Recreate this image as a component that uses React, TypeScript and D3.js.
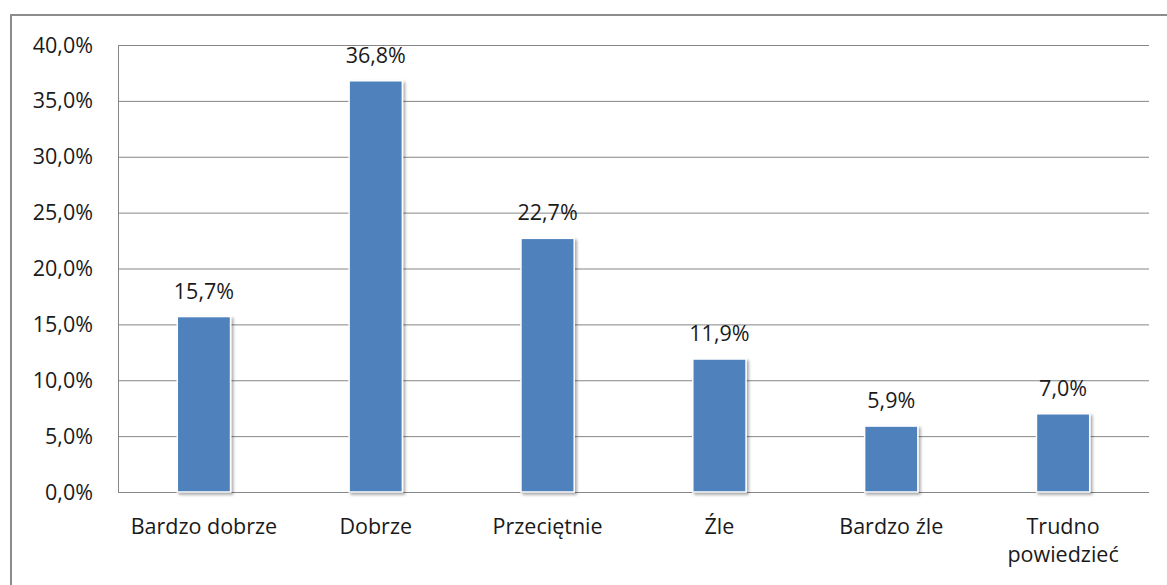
import React, { useEffect, useRef } from "react";
import * as d3 from "d3";

// Chart data
const categories = ["Bardzo dobrze", "Dobrze", "Przeciętnie", "Źle", "Bardzo źle", "Trudno powiedzieć"];
const values = [15.7, 36.8, 22.7, 11.9, 5.9, 7.0];
const yTicks = [0, 5, 10, 15, 20, 25, 30, 35, 40];

const WIDTH = 1167;
const HEIGHT = 585;

export default function App() {
  const chartRef = useRef<SVGSVGElement>(null);

  useEffect(() => {
    const svg = d3.select(chartRef.current);
    svg.selectAll("*").remove();

    const left = 118;
    const right = 1149;
    const top = 45;
    const bottom = 492;
    const font = "'Open Sans', sans-serif";
    const fontSize = 21.5;

    // drop shadow for bars
    const defs = svg.append("defs");
    const filter = defs
      .append("filter")
      .attr("id", "shadow")
      .attr("x", "-20%")
      .attr("y", "-10%")
      .attr("width", "150%")
      .attr("height", "130%");
    filter
      .append("feDropShadow")
      .attr("dx", 2)
      .attr("dy", 2)
      .attr("stdDeviation", 1.5)
      .attr("flood-color", "#000")
      .attr("flood-opacity", 0.35);

    // outer chart border
    svg
      .append("rect")
      .attr("x", 11)
      .attr("y", 15)
      .attr("width", 1170)
      .attr("height", 600)
      .attr("fill", "white")
      .attr("stroke", "#8c8c8c")
      .attr("stroke-width", 2);

    const x = d3.scaleBand().domain(categories).range([left, right]).paddingInner(0.69).paddingOuter(0.345);
    const y = d3.scaleLinear().domain([0, 40]).range([bottom, top]);

    // gridlines
    svg
      .append("g")
      .selectAll("line")
      .data(yTicks)
      .join("line")
      .attr("x1", left)
      .attr("x2", right)
      .attr("y1", (d) => y(d) + 0.5)
      .attr("y2", (d) => y(d) + 0.5)
      .attr("stroke", "#868686")
      .attr("stroke-width", 1);

    // y axis line
    svg
      .append("line")
      .attr("x1", left + 0.5)
      .attr("x2", left + 0.5)
      .attr("y1", top)
      .attr("y2", bottom + 1)
      .attr("stroke", "#868686");

    // y tick labels
    svg
      .append("g")
      .selectAll("text")
      .data(yTicks)
      .join("text")
      .attr("x", 93)
      .attr("y", (d) => y(d))
      .attr("dy", "0.35em")
      .attr("text-anchor", "end")
      .attr("font-family", font)
      .attr("font-size", fontSize)
      .attr("fill", "#1a1a1a")
      .text((d) => d.toFixed(1).replace(".", ",") + "%");

    // bars
    svg
      .append("g")
      .selectAll("rect")
      .data(values)
      .join("rect")
      .attr("x", (d, i) => x(categories[i])!)
      .attr("y", (d) => y(d))
      .attr("width", x.bandwidth())
      .attr("height", (d) => bottom - y(d))
      .attr("fill", "#4f81bd")
      .attr("stroke", "white")
      .attr("stroke-width", 1.5)
      .attr("filter", "url(#shadow)");

    // value labels
    svg
      .append("g")
      .selectAll("text")
      .data(values)
      .join("text")
      .attr("x", (d, i) => x(categories[i])! + x.bandwidth() / 2)
      .attr("y", (d) => y(d) - 18)
      .attr("text-anchor", "middle")
      .attr("font-family", font)
      .attr("font-size", fontSize)
      .attr("fill", "#1a1a1a")
      .text((d) => d.toFixed(1).replace(".", ",") + "%");

    // category labels (wrap two-word label onto two lines)
    const catLabels = svg
      .append("g")
      .selectAll("text")
      .data(categories)
      .join("text")
      .attr("x", (d) => x(d)! + x.bandwidth() / 2)
      .attr("y", 534)
      .attr("text-anchor", "middle")
      .attr("font-family", font)
      .attr("font-size", fontSize)
      .attr("fill", "#1a1a1a");
    catLabels.each(function (d) {
      const t = d3.select(this);
      const cx = x(d)! + x.bandwidth() / 2;
      if (d === "Trudno powiedzieć") {
        d.split(" ").forEach((w, i) => {
          t.append("tspan").attr("x", cx).attr("dy", i === 0 ? 0 : 28).text(w);
        });
      } else {
        t.text(d);
      }
    });
  }, []);

  return (
    <div style={{ position: "absolute", left: 0, top: 0 }}>
      <svg ref={chartRef} width={WIDTH} height={HEIGHT}></svg>
    </div>
  );
}
